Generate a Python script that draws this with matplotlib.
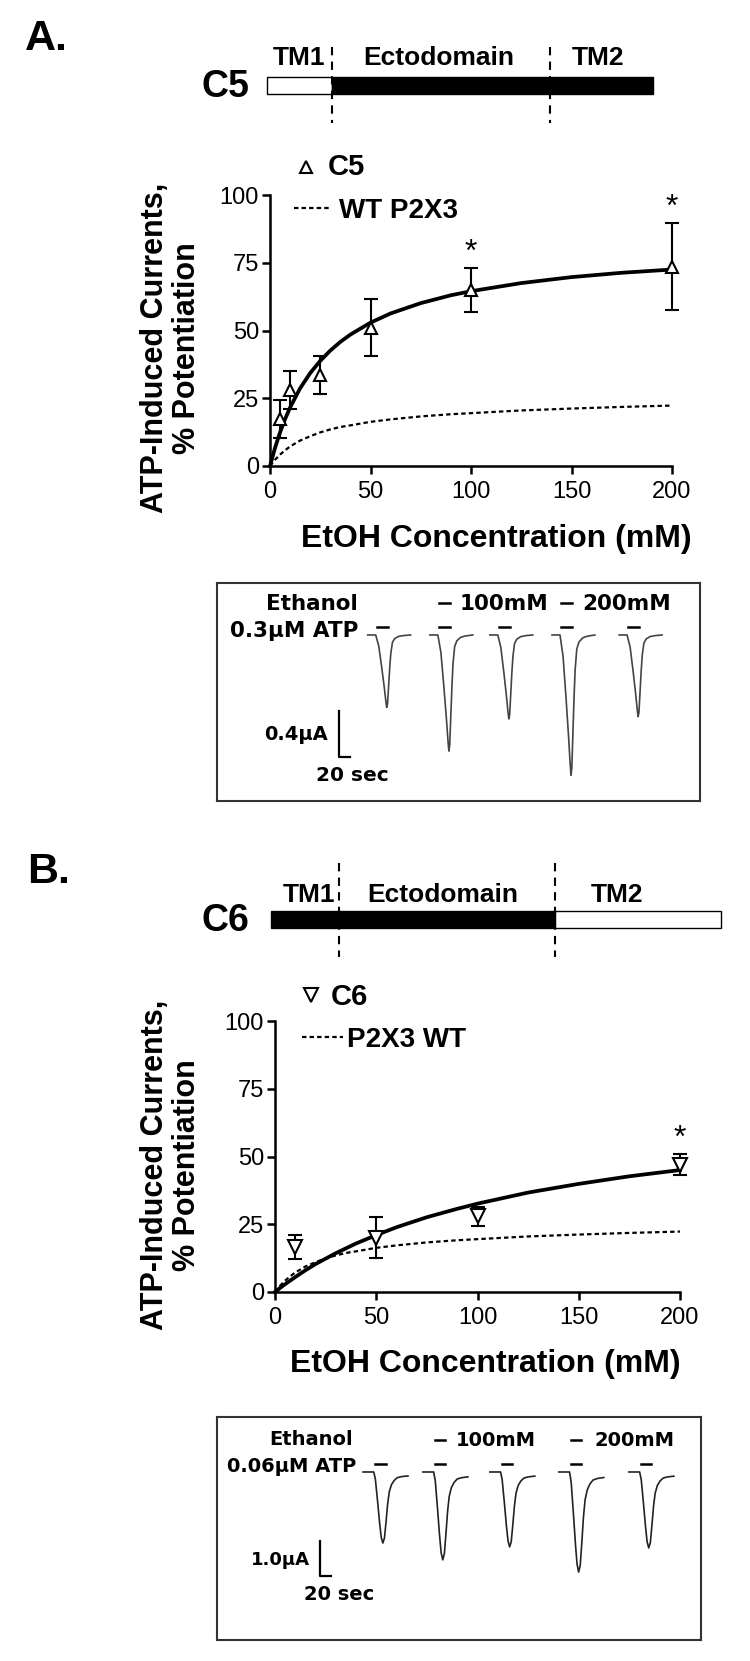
import matplotlib
matplotlib.use("Agg")
import matplotlib.pyplot as plt
from matplotlib.patches import Rectangle

plt.rcParams['font.family'] = ['Liberation Sans', 'DejaVu Sans']

W, H = 750, 1661

# dose-response values (% potentiation, mean and sem)
conc_c5 = [5, 10, 25, 50, 100, 200]
pot_c5 = [17.5, 28, 33.5, 51, 65, 73.5]
sem_c5 = [7, 7, 7, 10.5, 8, 16]
sig_c5 = [100, 200]

conc_c6 = [10, 50, 100, 200]
pot_c6 = [16.5, 20, 28, 47]
sem_c6 = [4.5, 7.5, 3.5, 3.9]
sig_c6 = [200]

# fitted curves
fit_x = [0, 2.5, 5, 7.5, 10, 15, 20, 25, 30, 35, 40, 50, 60, 75, 90, 100, 125, 150, 175, 200]
fit_c5 = [0, 6.7, 12.4, 17.3, 21.6, 28.7, 34.3, 38.8, 42.6, 45.8, 48.5, 52.9, 56.3, 60.1,
          63.0, 64.5, 67.5, 69.7, 71.3, 72.5]
fit_c6 = [0, 1.5, 2.9, 4.2, 5.5, 8.0, 10.3, 12.3, 14.3, 16.1, 17.9, 21.0, 23.9, 27.6,
          30.7, 32.6, 36.7, 39.9, 42.7, 45.0]
fit_wt = [0, 2.3, 4.2, 5.8, 7.2, 9.4, 11.0, 12.4, 13.5, 14.4, 15.0, 16.3, 17.2, 18.3,
          19.1, 19.5, 20.5, 21.2, 21.8, 22.3]

xticks = [0, 50, 100, 150, 200]
yticks = [0, 25, 50, 75, 100]

# construct schematics (domain boundaries in schematic units)
domains = ["TM1", "Ectodomain", "TM2"]
c5_edges = [0, 65, 283, 386]
c5_fill = ["white", "black", "black"]
c6_edges = [0, 68, 284, 450]
c6_fill = ["black", "black", "white"]

# current traces: template shape (s after onset, fraction of peak)
tpl_t_a = [0, 14.5, 20, 25.5, 30, 33, 34.5, 36, 38, 40, 42, 45, 49, 56, 65, 78]
tpl_f_a = [0, 0, 0.15, 0.45, 0.72, 0.92, 1.0, 0.95, 0.7, 0.45, 0.25, 0.1, 0.05, 0.02, 0.008, 0.0]
tpl_t_b = [0, 20, 23, 27, 31, 34, 37, 40, 43, 46, 49, 53, 58, 64, 72, 84]
tpl_f_b = [0, 0, 0.1, 0.4, 0.72, 0.92, 1.0, 0.93, 0.7, 0.45, 0.28, 0.18, 0.12, 0.08, 0.065, 0.055]

onset_a = [274, 387, 496, 609, 731]     # s
peak_a = [0.63, 1.01, 0.73, 1.22, 0.71]  # uA
onset_b = [273, 385, 510, 639, 770]
peak_b = [2.03, 2.51, 2.14, 2.86, 2.17]
etoh_idx = [1, 3]
etoh_txt = ["100mM", "200mM"]

fig = plt.figure(figsize=(W / 100, H / 100), dpi=100)


def px_axes(l, t, r, b):
    return fig.add_axes([l / W, 1 - b / H, (r - l) / W, (b - t) / H])


ov = fig.add_axes([0, 0, 1, 1])
ov.set_xlim(0, W)
ov.set_ylim(H, 0)
ov.axis('off')
ov.set_zorder(10)


def schematic(x0, ytop, edges, fills, name, label_x, base_lab, dash_top, dash_bot):
    for i in range(len(fills)):
        ov.add_patch(Rectangle((x0 + edges[i], ytop), edges[i + 1] - edges[i], 17,
                               fc=fills[i], ec='black', lw=1.0))
    for e in edges[1:3]:
        ov.plot([x0 + e, x0 + e], [dash_top, dash_bot], color='black', lw=1.5,
                linestyle=(0, (4, 3)))
    for lab, lx in zip(domains, label_x):
        ov.text(x0 + lx, base_lab, lab, ha='center', va='baseline', fontsize=19,
                fontweight='bold')
    ov.text(249, ytop + 20, name, ha='right', va='baseline', fontsize=27, fontweight='bold')


def dose_panel(ax, conc, mean, sem, marker, ms, fit_y, sig):
    ax.plot(fit_x, fit_wt, color='black', lw=1.6, linestyle=(0, (2.0, 1.4)), clip_on=False)
    ax.plot(fit_x, fit_y, color='black', lw=2.7, clip_on=False)
    ax.errorbar(conc, mean, yerr=sem, fmt='none', ecolor='black', elinewidth=1.5,
                capsize=5, capthick=1.5, clip_on=False)
    ax.plot(conc, mean, linestyle='none', marker=marker, ms=ms, mfc='white', mec='black',
            mew=1.5, clip_on=False, zorder=4)
    for x in sig:
        i = conc.index(x)
        ax.annotate('*', (x, mean[i] + sem[i]), xytext=(0, 11), textcoords='offset points',
                    ha='center', va='center', fontsize=23)
    ax.set_xlim(0, 200)
    ax.set_ylim(0, 100)
    ax.set_xticks(xticks)
    ax.set_yticks(yticks)
    for s in ['top', 'right']:
        ax.spines[s].set_visible(False)
    for s in ['left', 'bottom']:
        ax.spines[s].set_linewidth(1.8)
    ax.tick_params(labelsize=17, length=6, width=1.8)
    ax.tick_params(axis='y', pad=2)
    ax.tick_params(axis='x', pad=5)
    ax.patch.set_alpha(0)


def trace_panel(ax, tpl_t, tpl_f, onsets, peaks, atp_on, atp_y, etoh_y, bx, by, amp,
                xlim, ylim, color):
    for on, pk in zip(onsets, peaks):
        ax.plot([on + t for t in tpl_t], [-pk * f for f in tpl_f], color=color, lw=1.2)
        ax.plot([on + atp_on, on + atp_on + 20], [atp_y, atp_y], color='black', lw=1.8)
    for i in etoh_idx:
        on = onsets[i]
        ax.plot([on + atp_on, on + atp_on + 20], [etoh_y, etoh_y], color='black', lw=1.8)
    ax.plot([bx, bx, bx + 20], [by + amp, by, by], color='black', lw=1.6)
    ax.set_xlim(*xlim)
    ax.set_ylim(*ylim)
    ax.set_xticks([])
    ax.set_yticks([])
    for s in ax.spines.values():
        s.set_color('#333333')
        s.set_linewidth(1.5)


# ---------------- panel A ----------------
fig.text(25 / W, 1 - 50 / H, "A.", fontsize=31, fontweight='bold', va='baseline')
schematic(267, 77, c5_edges, c5_fill, "C5", [32, 172, 331], 65, 47, 123)

axA = px_axes(270, 195, 672, 466)
dose_panel(axA, conc_c5, pot_c5, sem_c5, '^', 8.5, fit_c5, sig_c5)

ov.plot([306], [167], marker='^', ms=8.5, mfc='white', mec='black', mew=1.5)
ov.text(328, 175, "C5", fontsize=21, fontweight='bold', va='baseline')
ov.plot([294, 330], [208, 208], color='black', lw=1.6, linestyle=(0, (2.0, 1.4)))
ov.text(339, 218, "WT P2X3", fontsize=20, fontweight='bold', va='baseline')

fig.text(301 / W, 1 - 547 / H, "EtOH Concentration (mM)", fontsize=23, fontweight='bold',
         va='baseline')
fig.text(171 / W, 1 - 348 / H, "ATP-Induced Currents,\n% Potentiation", fontsize=22,
         fontweight='bold', rotation=90, ha='center', va='center', multialignment='center',
         linespacing=1.1)

trA = px_axes(217, 583, 700, 801)
trace_panel(trA, tpl_t_a, tpl_f_a, onset_a, peak_a, 17, 0.07, 0.28, 222, -1.061, 0.4,
            (0, 878), (-1.444, 0.452), '#444444')
ov.text(358, 610, "Ethanol", ha='right', va='baseline', fontsize=15.5, fontweight='bold',
        family='DejaVu Sans')
ov.text(358, 637, "0.3µM ATP", ha='right', va='baseline', fontsize=15.5, fontweight='bold',
        family='DejaVu Sans')
for lx, t in zip([460, 582], etoh_txt):
    ov.text(lx, 610, t, va='baseline', fontsize=15.5, fontweight='bold', family='DejaVu Sans')
ov.text(328, 740, "0.4µA", ha='right', va='baseline', fontsize=14, fontweight='bold',
        family='DejaVu Sans')
ov.text(316, 781, "20 sec", va='baseline', fontsize=14.5, fontweight='bold',
        family='DejaVu Sans')

# ---------------- panel B ----------------
fig.text(27 / W, 1 - 883 / H, "B.", fontsize=31, fontweight='bold', va='baseline')
schematic(271, 911, c6_edges, c6_fill, "C6", [38, 172, 346], 902, 863, 957)

axB = px_axes(275, 1021, 680, 1292)
dose_panel(axB, conc_c6, pot_c6, sem_c6, 'v', 9.5, fit_c6, sig_c6)

ov.plot([311], [995], marker='v', ms=9.5, mfc='white', mec='black', mew=1.5)
ov.text(331, 1005, "C6", fontsize=21, fontweight='bold', va='baseline')
ov.plot([302, 343], [1037, 1037], color='black', lw=1.6, linestyle=(0, (2.0, 1.4)))
ov.text(347, 1047, "P2X3 WT", fontsize=20, fontweight='bold', va='baseline')

fig.text(290 / W, 1 - 1372 / H, "EtOH Concentration (mM)", fontsize=23, fontweight='bold',
         va='baseline')
fig.text(171 / W, 1 - 1165 / H, "ATP-Induced Currents,\n% Potentiation", fontsize=22,
         fontweight='bold', rotation=90, ha='center', va='center', multialignment='center',
         linespacing=1.1)

trB = px_axes(217, 1417, 701, 1640)
trace_panel(trB, tpl_t_b, tpl_f_b, onset_b, peak_b, 22, 0.23, 0.91, 192.5, -2.97, 1.0,
            (0, 904.7), (-4.80, 1.571), '#222222')
ov.text(353, 1445, "Ethanol", ha='right', va='baseline', fontsize=14, fontweight='bold',
        family='DejaVu Sans')
ov.text(356, 1472, "0.06µM ATP", ha='right', va='baseline', fontsize=14, fontweight='bold',
        family='DejaVu Sans')
for lx, t in zip([456, 594], etoh_txt):
    ov.text(lx, 1446, t, va='baseline', fontsize=14, fontweight='bold', family='DejaVu Sans')
ov.text(310, 1565, "1.0µA", ha='right', va='baseline', fontsize=13, fontweight='bold',
        family='DejaVu Sans')
ov.text(304, 1600, "20 sec", va='baseline', fontsize=14, fontweight='bold',
        family='DejaVu Sans')

fig.savefig("out.png", dpi=100)
